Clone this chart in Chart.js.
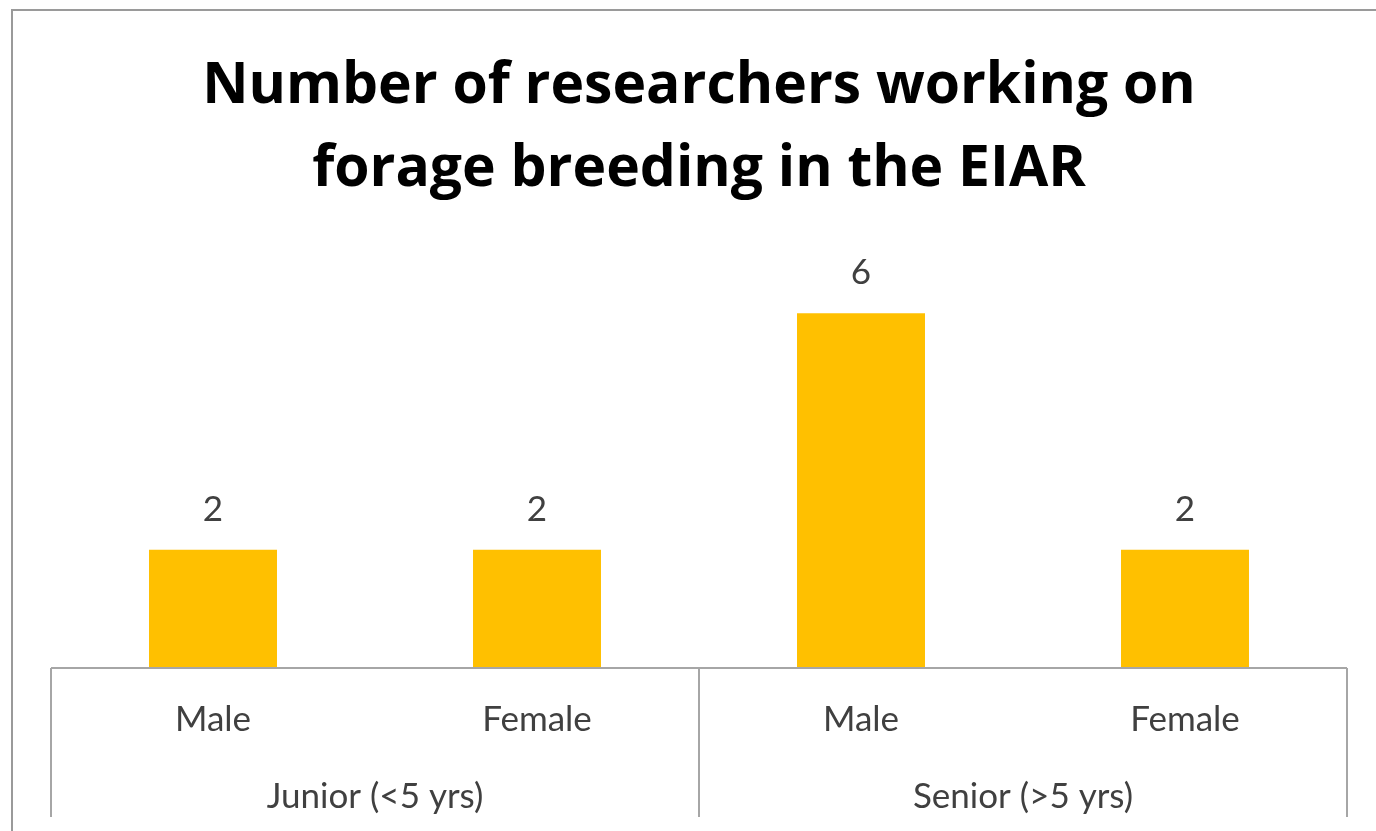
<!DOCTYPE html>
<html>
<head>
<meta charset="utf-8">
<script src="https://cdn.jsdelivr.net/npm/chart.js@4/dist/chart.umd.min.js"></script>
<style>
  html, body { margin: 0; padding: 0; background: #ffffff; overflow: hidden; width: 1376px; height: 831px; }
  #frame { position: absolute; left: 11px; top: 9px; width: 1380px; height: 840px;
           border: 2px solid #9a9a9a; box-sizing: border-box; background: #ffffff; }
  #frame canvas { position: absolute; left: 0; top: 0; }
</style>
</head>
<body>
<div id="frame"><canvas id="chart" width="1372" height="830"></canvas></div>
<script>
// Researchers working on forage breeding, by seniority and gender
const titleLines = ['Number of researchers working on', 'forage breeding in the EIAR'];
const genders = ['Male', 'Female', 'Male', 'Female'];
const groups = ['Junior (<5 yrs)', 'Senior (>5 yrs)'];
const researchers = [2, 2, 6, 2];

const TEXT_DARK = '#404040';
const LINE_GREY = '#a6a6a6';
const LABEL_FONT = { family: 'Lato, "Open Sans", sans-serif', size: 35 };

// Draws the value above each bar
const valueLabels = {
  id: 'valueLabels',
  afterDatasetsDraw(chart) {
    const ctx = chart.ctx;
    const meta = chart.getDatasetMeta(0);
    ctx.save();
    ctx.font = '35px Lato, "Open Sans", sans-serif';
    ctx.fillStyle = TEXT_DARK;
    ctx.textAlign = 'center';
    ctx.textBaseline = 'middle';
    meta.data.forEach((bar, i) => {
      ctx.fillText(String(chart.data.datasets[0].data[i]), bar.x, bar.y - 40);
    });
    ctx.restore();
  }
};

// Axis line plus the boxes of the two-level category axis
const groupedAxis = {
  id: 'groupedAxis',
  afterDraw(chart) {
    const ctx = chart.ctx;
    const x = chart.scales.x;
    const x2 = chart.scales.x2;
    const base = chart.chartArea.bottom;
    const end = x2.bottom - 24;
    const mid = (x.getPixelForValue(1) + x.getPixelForValue(2)) / 2;
    ctx.save();
    ctx.strokeStyle = LINE_GREY;
    ctx.lineWidth = 2;
    ctx.beginPath();
    ctx.moveTo(x.left, base);
    ctx.lineTo(x.right, base);
    [x.left, mid, x.right].forEach(px => {
      ctx.moveTo(px, base);
      ctx.lineTo(px, end);
    });
    ctx.stroke();
    ctx.restore();
  }
};

new Chart(document.getElementById('chart'), {
  type: 'bar',
  data: {
    labels: genders,
    datasets: [{
      data: researchers,
      backgroundColor: '#FFC000',
      borderWidth: 0,
      barPercentage: 0.395,
      categoryPercentage: 1.0
    }]
  },
  options: {
    responsive: false,
    animation: false,
    layout: { padding: { left: 38, right: 38, top: 0, bottom: 0 } },
    plugins: {
      legend: { display: false },
      tooltip: { enabled: false },
      title: {
        display: true,
        text: titleLines,
        color: '#000000',
        font: { family: '"Open Sans", Lato, sans-serif', size: 57, weight: 'bold', lineHeight: 83 / 57 },
        padding: { top: 34, bottom: 43 }
      }
    },
    scales: {
      y: {
        display: false,
        min: 0,
        max: 7
      },
      x: {
        position: 'bottom',
        grid: { display: false, drawTicks: false },
        border: { display: false },
        ticks: { color: TEXT_DARK, font: LABEL_FONT, padding: 31, maxRotation: 0, autoSkip: false },
        afterFit(scale) { scale.height = 90; }
      },
      x2: {
        type: 'category',
        position: 'bottom',
        labels: groups,
        offset: true,
        grid: { display: false, drawTicks: false },
        border: { display: false },
        ticks: { color: TEXT_DARK, font: LABEL_FONT, padding: 18, maxRotation: 0, autoSkip: false },
        afterFit(scale) { scale.height = 83; }
      }
    }
  },
  plugins: [valueLabels, groupedAxis]
});
</script>
</body>
</html>
